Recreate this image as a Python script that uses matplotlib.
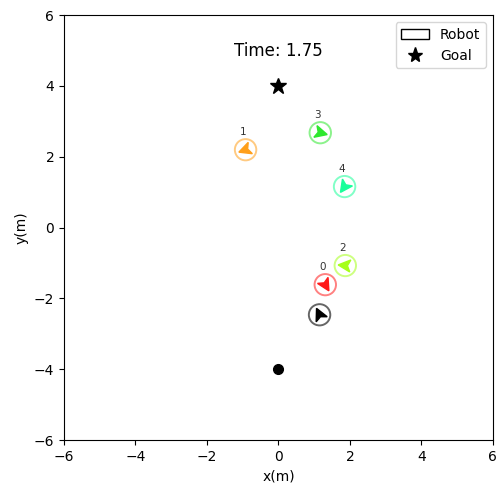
import numpy as np
import matplotlib.pyplot as plt
from matplotlib.patches import Circle, Polygon, Patch
from matplotlib.lines import Line2D

# robot states at t = 1.75
robot_ids = ['0', '1', '2', '3', '4']
robot_x = [1.31, -0.92, 1.87, 1.17, 1.85]
robot_y = [-1.61, 2.20, -1.07, 2.68, 1.16]
robot_heading = [-60, 200, 175, -15, -125]   # degrees
robot_colors = ['#ff1a1a', '#ff9f1a', '#a6ff1a', '#2ee82e', '#1aff9a']

# the uncoloured robot
black_x, black_y, black_heading = 1.15, -2.46, 115

start = (0, -4)
goal = (0, 4)
time_text = 'Time: 1.75'

radius = 0.3


def arrow_shape(x, y, deg, size=0.2):
    a = np.deg2rad(deg)
    pts = np.array([[1.0, 0.0], [-0.7, 0.85], [-0.3, 0.0], [-0.7, -0.85]]) * size
    rot = np.array([[np.cos(a), -np.sin(a)], [np.sin(a), np.cos(a)]])
    return pts @ rot.T + [x, y]


fig = plt.figure(figsize=(5.04, 4.88), dpi=100)
ax = fig.add_axes([0.127, 0.098, 0.851, 0.871])

for rid, x, y, h, c in zip(robot_ids, robot_x, robot_y, robot_heading, robot_colors):
    ax.add_patch(Circle((x, y), radius, fill=False, edgecolor=c, lw=1.4, alpha=0.55))
    ax.add_patch(Polygon(arrow_shape(x, y, h), closed=True, color=c))
    ax.text(x - 0.08, y + 0.5, rid, fontsize=7.5, ha='center', va='center', color='#333333')

ax.add_patch(Circle((black_x, black_y), radius, fill=False, edgecolor='black', lw=1.4, alpha=0.6))
ax.add_patch(Polygon(arrow_shape(black_x, black_y, black_heading), closed=True, color='black'))

ax.plot(start[0], start[1], 'o', color='black', ms=7)
ax.plot(goal[0], goal[1], '*', color='black', ms=12)
ax.text(0, 5.0, time_text, fontsize=12, ha='center', va='center')

ax.set_xlim(-6, 6)
ax.set_ylim(-6, 6)
ax.set_xticks(range(-6, 7, 2))
ax.set_yticks(range(-6, 7, 2))
ax.set_xlabel('x(m)')
ax.set_ylabel('y(m)')

handles = [Patch(facecolor='white', edgecolor='black', label='Robot'),
           Line2D([], [], marker='*', color='black', ls='', ms=11, label='Goal')]
ax.legend(handles=handles, loc='upper right')

fig.savefig('out.png', dpi=100)
